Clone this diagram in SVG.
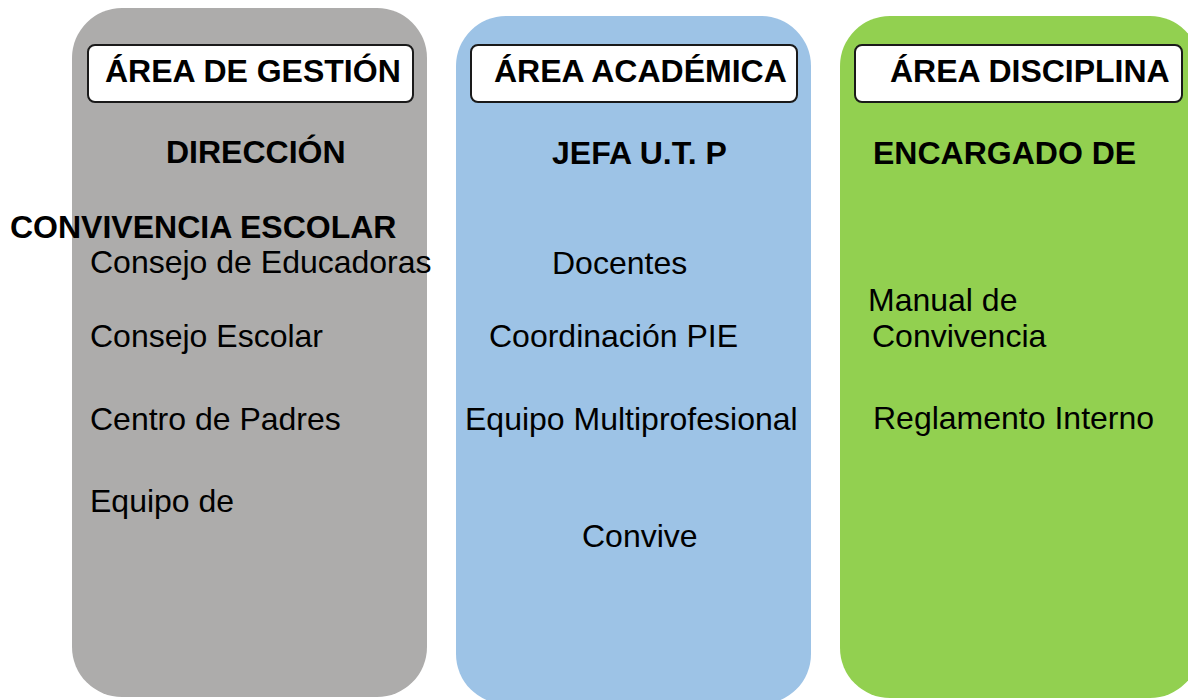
<svg xmlns="http://www.w3.org/2000/svg" width="1188" height="700" viewBox="0 0 1188 700">
<style>
.t{font-family:"Liberation Sans",Arial,sans-serif;font-size:32px;fill:#000}
.b{font-weight:bold}
.hdr{fill:#fff;stroke:#1a1a1a;stroke-width:2}
</style>
<rect width="1188" height="700" fill="#fff"/>
<g id="area-gestion">
<rect x="72" y="8" width="355" height="689" rx="50" fill="#adacab"/>
<rect class="hdr" x="88" y="45" width="325" height="57" rx="7"/>
<text class="t b" x="105" y="82">ÁREA DE GESTIÓN</text>
<text class="t b" x="166" y="163">DIRECCIÓN</text>
<text class="t b" x="10" y="238">CONVIVENCIA ESCOLAR</text>
<text class="t" x="90" y="273">Consejo de Educadoras</text>
<text class="t" x="90" y="347">Consejo Escolar</text>
<text class="t" x="90" y="430">Centro de Padres</text>
<text class="t" x="90" y="512">Equipo de</text>
</g>
<g id="area-academica">
<rect x="456" y="16" width="355" height="688" rx="50" fill="#9dc3e6"/>
<rect class="hdr" x="471" y="45" width="326" height="57" rx="7"/>
<text class="t b" x="494" y="82">ÁREA ACADÉMICA</text>
<text class="t b" x="552" y="164">JEFA U.T. P</text>
<text class="t" x="552" y="274">Docentes</text>
<text class="t" x="489" y="347">Coordinación PIE</text>
<text class="t" x="465" y="430">Equipo Multiprofesional</text>
<text class="t" x="582" y="547">Convive</text>
</g>
<g id="area-disciplina">
<rect x="840" y="16" width="360" height="682" rx="50" fill="#92d050"/>
<rect class="hdr" x="855" y="45" width="327" height="57" rx="7"/>
<text class="t b" x="890" y="82">ÁREA DISCIPLINA</text>
<text class="t b" x="873" y="164">ENCARGADO DE</text>
<text class="t" x="868" y="311">Manual de</text>
<text class="t" x="872" y="347">Convivencia</text>
<text class="t" x="873" y="429">Reglamento Interno</text>
</g>
<g id="connectors"></g>
</svg>
